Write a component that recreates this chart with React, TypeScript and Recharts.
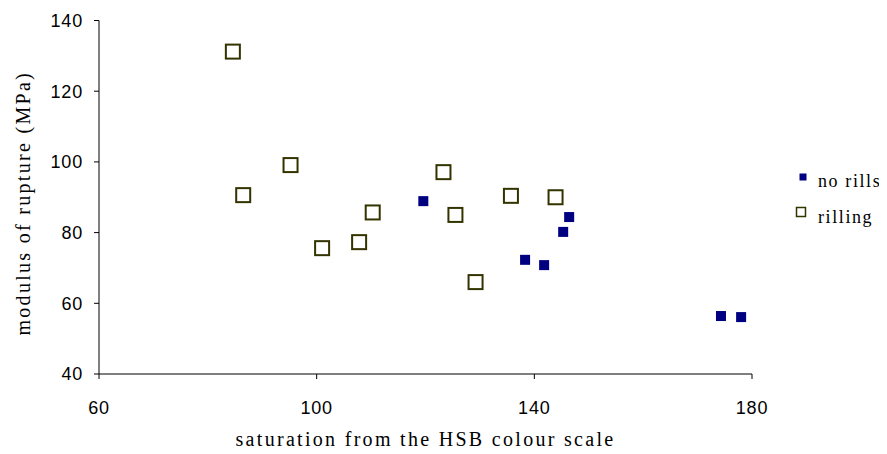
import { ScatterChart, Scatter, XAxis, YAxis } from "recharts";

// saturation (HSB) vs modulus of rupture
const noRillsX = [119.6, 138.3, 141.8, 145.3, 146.4, 174.3, 178.0];
const noRillsY = [88.9, 72.3, 70.8, 80.2, 84.4, 56.4, 56.1];
const rillingX = [84.6, 86.5, 95.2, 101.0, 107.8, 110.3, 123.3, 125.5, 129.2, 135.7, 143.9];
const rillingY = [131.2, 90.6, 99.1, 75.6, 77.3, 85.7, 97.1, 85.0, 66.0, 90.4, 90.0];

const xTicks = [60, 100, 140, 180];
const yTicks = [40, 60, 80, 100, 120, 140];

const noRills = noRillsX.map((x, i) => ({ x, y: noRillsY[i] }));
const rilling = rillingX.map((x, i) => ({ x, y: rillingY[i] }));

const NAVY = "#000080";
const OLIVE = "#333300";

const serif = { fontFamily: "'Liberation Serif', 'Times New Roman', serif", fontSize: 20, letterSpacing: 2.3, fill: "#000" };
const legendFont = { ...serif, fontSize: 18, letterSpacing: 1.6 };
const tickFont = { fontFamily: "'Liberation Sans', Arial, sans-serif", fontSize: 18, letterSpacing: 0.8, fill: "#000" };

const FilledSquare = (p: any) => (
  <rect x={p.cx - 5} y={p.cy - 5} width={10} height={10} fill={NAVY} />
);

const HollowSquare = (p: any) => (
  <rect x={p.cx - 7} y={p.cy - 7} width={14} height={14} fill="#fff" stroke={OLIVE} strokeWidth={2} />
);

export default function App() {
  return (
    <div style={{ position: "relative", width: 879, height: 446 }}>
      <ScatterChart width={879} height={446} margin={{ top: 12.5, right: 135, bottom: 0, left: 0 }}>
        <XAxis
          type="number"
          dataKey="x"
          domain={[60, 180]}
          ticks={xTicks}
          tickSize={5}
          tickMargin={22}
          height={80}
          stroke="#000"
          tick={tickFont}
          label={{ value: "saturation from the HSB colour scale", position: "insideBottom", offset: 8, style: serif }}
        />
        <YAxis
          type="number"
          dataKey="y"
          domain={[40, 140]}
          ticks={yTicks}
          tickSize={5}
          tickMargin={11}
          width={91}
          stroke="#000"
          tick={tickFont}
          label={{
            value: "modulus of rupture (MPa)",
            angle: -90,
            position: "insideLeft",
            offset: 15,
            dy: 6,
            style: { ...serif, textAnchor: "middle" },
          }}
        />
        <Scatter name="rilling" data={rilling} shape={HollowSquare} isAnimationActive={false} />
        <Scatter name="no rills" data={noRills} shape={FilledSquare} isAnimationActive={false} />
      </ScatterChart>
      <svg width={879} height={446} style={{ position: "absolute", left: 0, top: 0, pointerEvents: "none" }}>
        <rect x={791.5} y={165.5} width={7} height={7} fill={NAVY} />
        <text x={810} y={178.7} style={legendFont}>no rills</text>
        <rect x={788.5} y={199.5} width={9} height={9} fill="#fff" stroke={OLIVE} strokeWidth={1.5} />
        <text x={810} y={214.7} style={legendFont}>rilling</text>
      </svg>
    </div>
  );
}
